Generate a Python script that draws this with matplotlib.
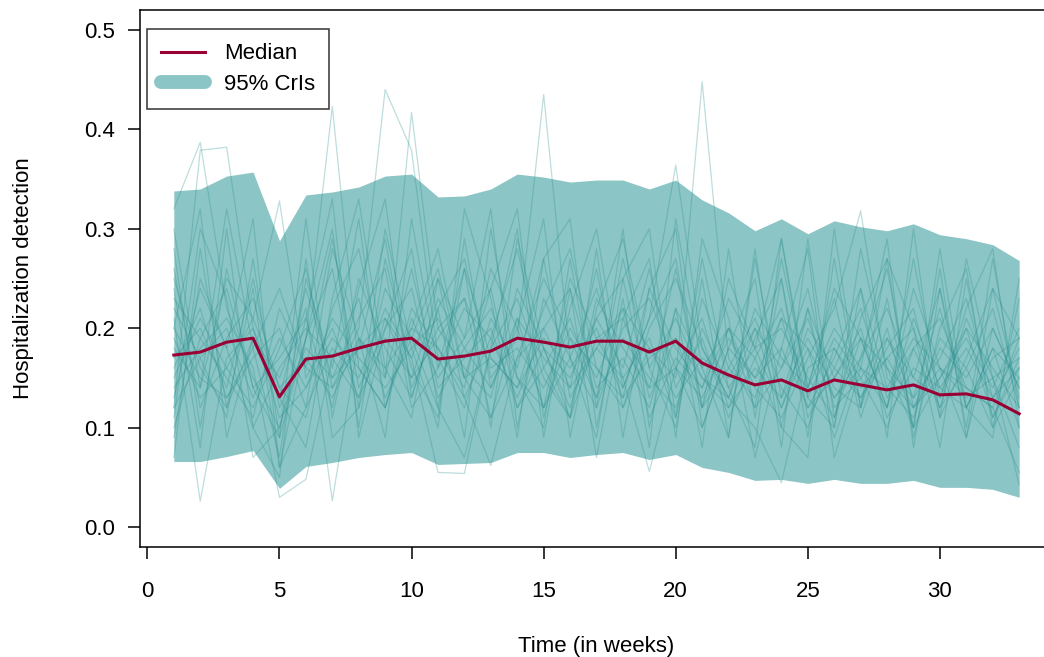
import matplotlib
matplotlib.use('Agg')
import matplotlib.pyplot as plt
from matplotlib.lines import Line2D

plt.rcParams['font.family'] = ['Liberation Sans', 'DejaVu Sans']

weeks = list(range(1, 34))

median = [0.173, 0.176, 0.186, 0.190, 0.131, 0.169, 0.172, 0.180, 0.187, 0.190,
          0.169, 0.172, 0.177, 0.190, 0.186, 0.181, 0.187, 0.187, 0.176, 0.187,
          0.165, 0.153, 0.143, 0.148, 0.137, 0.148, 0.143, 0.138, 0.143, 0.133,
          0.134, 0.128, 0.114]

lower = [0.066, 0.066, 0.071, 0.077, 0.039, 0.061, 0.065, 0.070, 0.073, 0.075,
         0.063, 0.064, 0.065, 0.075, 0.075, 0.070, 0.073, 0.075, 0.068, 0.073,
         0.060, 0.055, 0.047, 0.048, 0.044, 0.048, 0.044, 0.044, 0.047, 0.040,
         0.040, 0.038, 0.030]

upper = [0.338, 0.340, 0.353, 0.357, 0.288, 0.334, 0.337, 0.342, 0.353, 0.355,
         0.332, 0.333, 0.340, 0.355, 0.352, 0.347, 0.349, 0.349, 0.340, 0.349,
         0.329, 0.316, 0.298, 0.310, 0.295, 0.308, 0.302, 0.298, 0.305, 0.294,
         0.290, 0.284, 0.268]

t01 = [0.32,0.387,0.22,0.15,0.10,0.19,0.26,0.12,0.21,0.17,0.25,0.13,0.19,0.28,0.16,0.11,0.23,0.18,0.14,0.26,0.12,0.20,0.17,0.10,0.22,0.15,0.19,0.12,0.24,0.16,0.09,0.20,0.14]
t02 = [0.12,0.379,0.382,0.20,0.13,0.24,0.15,0.18,0.29,0.14,0.20,0.23,0.11,0.17,0.25,0.19,0.13,0.27,0.16,0.21,0.15,0.12,0.19,0.25,0.11,0.16,0.22,0.13,0.18,0.12,0.21,0.15,0.17]
t03 = [0.18,0.14,0.25,0.21,0.328,0.15,0.20,0.13,0.24,0.19,0.12,0.26,0.17,0.14,0.22,0.28,0.16,0.12,0.20,0.25,0.18,0.13,0.22,0.17,0.14,0.23,0.11,0.19,0.15,0.24,0.12,0.18,0.10]
t04 = [0.22,0.17,0.11,0.27,0.09,0.19,0.423,0.16,0.12,0.22,0.18,0.14,0.26,0.20,0.12,0.17,0.24,0.15,0.19,0.11,0.23,0.16,0.13,0.21,0.18,0.09,0.17,0.26,0.12,0.15,0.20,0.11,0.16]
t05 = [0.15,0.21,0.16,0.12,0.18,0.26,0.14,0.20,0.44,0.379,0.17,0.12,0.21,0.16,0.27,0.13,0.18,0.22,0.11,0.17,0.14,0.23,0.18,0.12,0.20,0.16,0.13,0.18,0.22,0.11,0.17,0.24,0.13]
t06 = [0.26,0.12,0.19,0.23,0.14,0.11,0.22,0.28,0.15,0.417,0.20,0.16,0.13,0.24,0.18,0.12,0.21,0.16,0.26,0.14,0.19,0.11,0.17,0.22,0.13,0.19,0.15,0.10,0.18,0.21,0.14,0.12,0.19]
t07 = [0.10,0.19,0.24,0.14,0.17,0.21,0.12,0.25,0.18,0.13,0.22,0.27,0.15,0.19,0.435,0.17,0.12,0.20,0.23,0.16,0.10,0.18,0.15,0.21,0.12,0.17,0.24,0.14,0.11,0.19,0.16,0.22,0.12]
t08 = [0.20,0.15,0.13,0.18,0.24,0.16,0.29,0.14,0.20,0.24,0.13,0.18,0.22,0.15,0.12,0.25,0.19,0.14,0.21,0.364,0.18,0.13,0.20,0.16,0.24,0.12,0.15,0.19,0.13,0.17,0.23,0.13,0.18]
t09 = [0.13,0.24,0.18,0.10,0.16,0.20,0.17,0.23,0.13,0.19,0.26,0.15,0.11,0.21,0.17,0.14,0.26,0.12,0.18,0.15,0.448,0.17,0.12,0.27,0.14,0.20,0.16,0.12,0.21,0.14,0.18,0.13,0.16]
t10 = [0.17,0.20,0.14,0.25,0.12,0.18,0.15,0.21,0.26,0.12,0.16,0.22,0.19,0.13,0.20,0.24,0.14,0.17,0.12,0.22,0.16,0.20,0.14,0.11,0.17,0.22,0.318,0.15,0.12,0.18,0.15,0.20,0.14]
t11 = [0.21,0.026,0.17,0.20,0.11,0.14,0.19,0.16,0.12,0.21,0.15,0.19,0.24,0.12,0.18,0.15,0.21,0.25,0.13,0.19,0.12,0.16,0.21,0.14,0.10,0.18,0.13,0.17,0.20,0.12,0.16,0.10,0.15]
t12 = [0.14,0.18,0.21,0.16,0.030,0.048,0.17,0.13,0.19,0.15,0.23,0.18,0.14,0.21,0.12,0.19,0.16,0.13,0.24,0.18,0.14,0.20,0.12,0.16,0.21,0.13,0.17,0.22,0.15,0.13,0.20,0.16,0.12]
t13 = [0.25,0.16,0.12,0.19,0.15,0.22,0.0265,0.19,0.15,0.26,0.14,0.17,0.20,0.12,0.16,0.21,0.13,0.19,0.15,0.12,0.20,0.14,0.18,0.20,0.15,0.11,0.19,0.16,0.13,0.22,0.12,0.17,0.19]
t14 = [0.16,0.22,0.13,0.17,0.20,0.12,0.18,0.15,0.22,0.17,0.055,0.054,0.18,0.23,0.15,0.11,0.19,0.21,0.14,0.16,0.21,0.12,0.16,0.13,0.19,0.14,0.12,0.20,0.10,0.15,0.19,0.14,0.20]
t15 = [0.19,0.13,0.16,0.21,0.14,0.17,0.13,0.19,0.16,0.20,0.18,0.13,0.062,0.17,0.20,0.14,0.18,0.15,0.056,0.16,0.13,0.19,0.15,0.18,0.12,0.15,0.20,0.11,0.16,0.14,0.12,0.18,0.15]
t16 = [0.12,0.17,0.20,0.13,0.19,0.14,0.21,0.17,0.14,0.18,0.21,0.15,0.17,0.14,0.19,0.16,0.20,0.13,0.17,0.19,0.15,0.13,0.10,0.0446,0.16,0.18,0.14,0.17,0.12,0.16,0.13,0.15,0.043]
t17 = [0.23,0.19,0.15,0.11,0.22,0.16,0.14,0.18,0.21,0.15,0.19,0.23,0.16,0.18,0.14,0.20,0.15,0.22,0.18,0.13,0.17,0.15,0.20,0.12,0.18,0.13,0.16,0.14,0.19,0.16,0.14,0.12,0.055]
t18 = [0.30,0.14,0.32,0.18,0.07,0.25,0.16,0.31,0.12,0.20,0.28,0.15,0.24,0.32,0.11,0.22,0.30,0.14,0.21,0.27,0.12,0.25,0.18,0.29,0.14,0.24,0.19,0.12,0.27,0.13,0.22,0.28,0.10]
t19 = [0.07,0.28,0.12,0.24,0.06,0.19,0.30,0.10,0.27,0.16,0.11,0.29,0.14,0.20,0.31,0.09,0.22,0.29,0.16,0.10,0.25,0.09,0.27,0.13,0.22,0.10,0.28,0.16,0.10,0.26,0.09,0.24,0.19]
t20 = [0.28,0.10,0.26,0.14,0.09,0.31,0.11,0.24,0.33,0.13,0.22,0.09,0.30,0.15,0.10,0.27,0.12,0.30,0.10,0.22,0.08,0.28,0.11,0.25,0.09,0.27,0.12,0.23,0.10,0.28,0.12,0.09,0.25]
t21 = [0.09,0.25,0.18,0.31,0.06,0.12,0.28,0.19,0.09,0.31,0.16,0.26,0.10,0.29,0.18,0.11,0.28,0.09,0.24,0.30,0.10,0.18,0.25,0.08,0.29,0.11,0.21,0.27,0.09,0.20,0.26,0.10,0.23]
t22 = [0.20,0.32,0.09,0.19,0.13,0.08,0.23,0.33,0.16,0.11,0.25,0.19,0.32,0.10,0.23,0.17,0.09,0.25,0.30,0.11,0.27,0.14,0.08,0.29,0.13,0.10,0.24,0.09,0.30,0.11,0.27,0.15,0.08]
t23 = [0.24,0.08,0.30,0.10,0.05,0.27,0.09,0.12,0.30,0.18,0.10,0.32,0.23,0.09,0.27,0.31,0.10,0.23,0.08,0.31,0.16,0.09,0.28,0.10,0.07,0.30,0.12,0.27,0.20,0.08,0.25,0.11,0.17]
t24 = [0.11,0.30,0.23,0.07,0.10,0.21,0.33,0.09,0.20,0.28,0.12,0.07,0.18,0.30,0.09,0.24,0.07,0.21,0.27,0.09,0.29,0.21,0.07,0.18,0.28,0.07,0.16,0.29,0.08,0.24,0.10,0.27,0.12]

trajectories = [t01, t02, t03, t04, t05, t06, t07, t08, t09, t10, t11, t12,
                t13, t14, t15, t16, t17, t18, t19, t20, t21, t22, t23, t24]

xticks = [0, 5, 10, 15, 20, 25, 30]
yticks = [0.0, 0.1, 0.2, 0.3, 0.4, 0.5]

band_color = '#8CC5C5'
line_color = '#2A8F8F'
median_color = '#990033'

fig = plt.figure(figsize=(10.44, 6.57), dpi=100)
ax = fig.add_axes([0.1341, 0.1674, 0.8745, 0.8174])

ax.fill_between(weeks, lower, upper, color=band_color, lw=0, zorder=1)
for t in trajectories:
    ax.plot(weeks, t, color=line_color, alpha=0.3, lw=0.9, zorder=2)
ax.plot(weeks, median, color=median_color, lw=2.2, zorder=3)

ax.set_xlim(-0.28, 34.28)
ax.set_ylim(-0.02, 0.52)
ax.set_xticks(xticks)
ax.set_xticklabels([str(v) for v in xticks])
ax.set_yticks(yticks)
ax.set_yticklabels(['%.1f' % v for v in yticks])

for s in ax.spines.values():
    s.set_linewidth(1.1)
ax.tick_params(axis='both', length=8.6, width=1.1, labelsize=16, color='black')
ax.tick_params(axis='x', pad=16)
ax.tick_params(axis='y', pad=9.5)

ax.set_xlabel('Time (in weeks)', fontsize=16, labelpad=24)
ax.set_ylabel('Hospitalization detection', fontsize=16, labelpad=36)

handles = [Line2D([], [], color=median_color, lw=2.2),
           Line2D([], [], color=band_color, lw=10, solid_capstyle='round')]
leg = ax.legend(handles, ['Median', '95% CrIs'], loc='upper left',
                bbox_to_anchor=(147 / 1044, 1 - 29 / 657),
                bbox_transform=fig.transFigure, borderaxespad=0,
                fontsize=16, frameon=True, fancybox=False,
                handlelength=1.95, handletextpad=0.85, borderpad=0.65,
                labelspacing=0.42)
leg.get_frame().set_edgecolor('black')
leg.get_frame().set_linewidth(1.1)

fig.savefig('out.png', dpi=100)
